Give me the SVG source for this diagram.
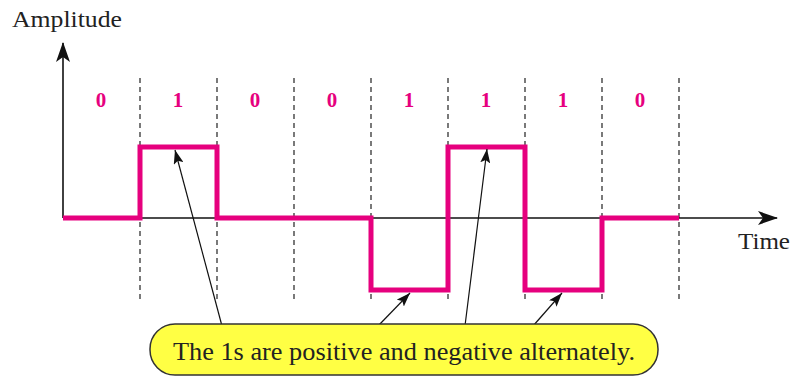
<svg xmlns="http://www.w3.org/2000/svg" width="792" height="377" viewBox="0 0 792 377">
<style>
.grid{stroke:#333;stroke-width:1.3;stroke-dasharray:5 4;fill:none}
.bit{font-family:"Liberation Serif",serif;font-weight:bold;font-size:21px;fill:#e6007e;text-anchor:middle}
.lbl{font-family:"Liberation Serif",serif;font-size:23px;fill:#222}
.big{font-family:"Liberation Serif",serif;font-size:25px;fill:#222}
.sig{stroke:#e6007e;stroke-width:5;fill:none;stroke-linejoin:miter}
.axis{stroke:#111;stroke-width:1.6;fill:none}
.ptr{stroke:#111;stroke-width:1.2;fill:none}
</style>
<defs>
<marker id="bigHead" markerUnits="userSpaceOnUse" markerWidth="20" markerHeight="14" refX="19" refY="7" orient="auto">
<path d="M0,0 L20,7 L0,14 L5,7 z" fill="#111"/>
</marker>
<marker id="smallHead" markerUnits="userSpaceOnUse" markerWidth="14" markerHeight="10" refX="14" refY="5" orient="auto">
<path d="M0,0 L14,5 L0,10 L3,5 z" fill="#111"/>
</marker>
</defs>
<rect width="792" height="377" fill="#ffffff"/>
<g id="grid">
<line class="grid" x1="140" y1="78" x2="140" y2="302"/>
<line class="grid" x1="217" y1="78" x2="217" y2="302"/>
<line class="grid" x1="294" y1="78" x2="294" y2="302"/>
<line class="grid" x1="371" y1="78" x2="371" y2="302"/>
<line class="grid" x1="448" y1="78" x2="448" y2="302"/>
<line class="grid" x1="525" y1="78" x2="525" y2="302"/>
<line class="grid" x1="602" y1="78" x2="602" y2="302"/>
<line class="grid" x1="679" y1="78" x2="679" y2="302"/>
</g>
<g id="bits">
<text class="bit" x="101" y="107">0</text>
<text class="bit" x="178" y="107">1</text>
<text class="bit" x="255" y="107">0</text>
<text class="bit" x="332" y="107">0</text>
<text class="bit" x="409" y="107">1</text>
<text class="bit" x="486" y="107">1</text>
<text class="bit" x="563" y="107">1</text>
<text class="bit" x="640" y="107">0</text>
</g>
<g id="axes">
<line class="axis" x1="63" y1="218" x2="63" y2="43" marker-end="url(#bigHead)"/>
<line class="axis" x1="63" y1="218" x2="777" y2="218" marker-end="url(#bigHead)"/>
<text class="lbl" x="12" y="27" textLength="110" lengthAdjust="spacingAndGlyphs">Amplitude</text>
<text class="lbl" x="738" y="249" textLength="52" lengthAdjust="spacingAndGlyphs">Time</text>
</g>
<g id="signal">
<polyline class="sig" points="63,218 140,218 140,147 217,147 217,218 371,218 371,290 448,290 448,147 525,147 525,290 602,290 602,218 679,218"/>
</g>
<g id="connectors">
<line class="ptr" x1="222" y1="326" x2="175" y2="150" marker-end="url(#smallHead)"/>
<line class="ptr" x1="378" y1="326" x2="410" y2="293" marker-end="url(#smallHead)"/>
<line class="ptr" x1="465" y1="326" x2="487" y2="149" marker-end="url(#smallHead)"/>
<line class="ptr" x1="533" y1="326" x2="562" y2="293" marker-end="url(#smallHead)"/>
</g>
<g id="callout">
<rect x="150" y="324" width="508" height="51" rx="25" ry="25" fill="#ffff44" stroke="#333" stroke-width="1.5"/>
<text class="big" x="173" y="360" textLength="462" lengthAdjust="spacingAndGlyphs">The 1s are positive and negative alternately.</text>
</g>
</svg>
